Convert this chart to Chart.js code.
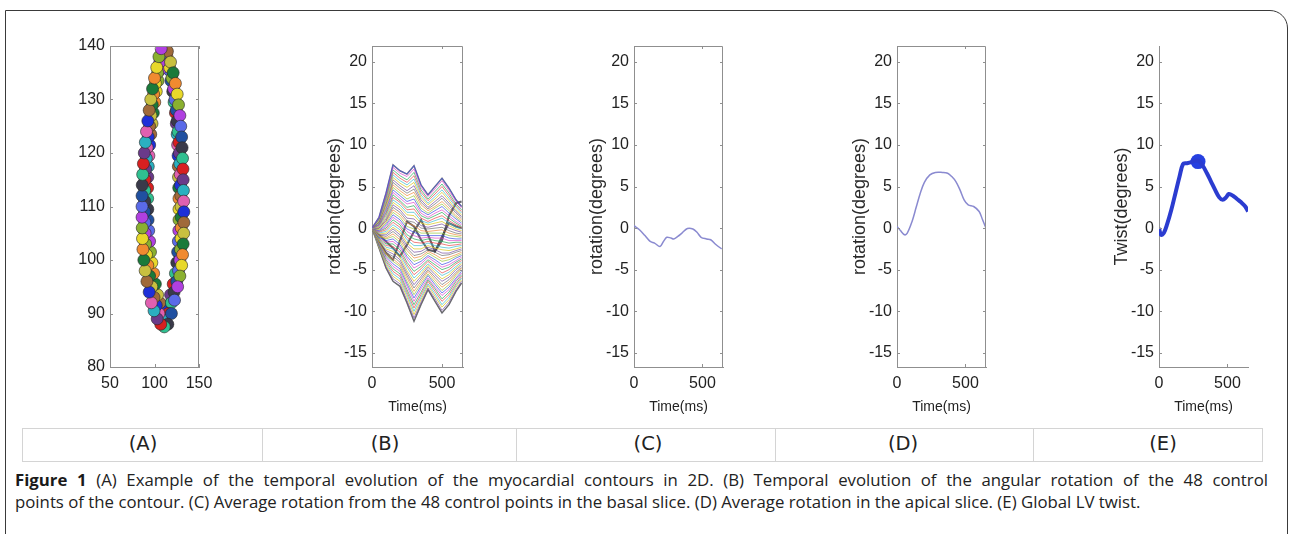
<!DOCTYPE html>
<html><head><meta charset="utf-8">
<script src="https://cdn.jsdelivr.net/npm/chart.js@4.4.1/dist/chart.umd.min.js"></script>
<style>
html,body{margin:0;padding:0;background:#fff;width:1293px;height:534px;overflow:hidden;position:relative;}
#frame{position:absolute;left:5px;top:10px;width:1283px;height:560px;border:1.5px solid #3a3a3a;border-top-right-radius:18px;box-sizing:border-box;}
canvas{position:absolute;}
.cell{position:absolute;top:428px;height:34px;box-sizing:border-box;border:1px solid #d4d4d4;}
.lab{position:absolute;top:428px;width:80px;height:34px;margin-left:-40px;font-family:'DejaVu Sans',sans-serif;font-size:19.5px;color:#222;text-align:center;line-height:32px;}
.cap{position:absolute;left:15px;font-family:'Open Sans',sans-serif;font-size:16.8px;line-height:22px;color:#222;white-space:nowrap;}
#cap1{top:469px;width:1253px;text-align:justify;text-align-last:justify;}
#cap2{top:491px;}
.cap b{font-weight:700;color:#1a1a1a;}
</style></head><body>
<div id="frame"></div>
<div id="cells"></div>
<div class="cap" id="cap1"><b>Figure 1</b> (A) Example of the temporal evolution of the myocardial contours in 2D. (B) Temporal evolution of the angular rotation of the 48 control</div>
<div class="cap" id="cap2">points of the contour. (C) Average rotation from the 48 control points in the basal slice. (D) Average rotation in the apical slice. (E) Global LV twist.</div>
<script>
// ---------------- DATA ----------------
const panelLabels = ['(A)','(B)','(C)','(D)','(E)'];
const xTicksA = [50,100,150];
const yTicksA = [80,90,100,110,120,130,140];
const xTicksTime = [0,500];
const yTicksRot = [-15,-10,-5,0,5,10,15,20];

// (A) contour points (outer frame, mid frame, inner frame)
const contourOutX = [110,114.5,118,121,123.5,125.5,127,128.5,129.5,130.5,131,131.5,132,132.2,132.5,132.8,133,133,132.8,132.2,131.5,130.5,128.5,126,122.5,119,115,111,
                     107,103,99.5,96.5,94,91.5,89.5,88,87,86.5,86.2,86,86,86,86.2,86.7,87.5,88.5,89.7,91,92.5,94,95.8,97.8,100,102.5,105,107.5];
const contourOutY = [140.5,139,137,135,133,131,129,127,125,123,121,119,117,115,113,111,109,107,105,103,101,99,97,95,92.5,90,88,87.5,
                     88,89,90.5,92,94,96,98,100,102,104,106,108,110,112,114,116,118,120,122,124,126,128,130,132,134,136,138,139.5];
const contourMidX = [110,114,117,119.5,121.5,123,124.5,125.5,126.5,127.5,128,128.5,129,129.2,129.5,129.8,130,130,129.8,129.2,128.5,127,125,122,119,115.5,112,
                     108,105,102,99.5,97,94.5,92.5,91,90,89.5,89.2,89,89,89,89.3,90,90.8,91.8,93,94.5,96,97.5,99,101,103.5,106,108];
const contourMidY = [139.5,138,136,134,132,130,128,126,124,122,120,118,116,114,112,110,108,106,104,102,100,98,96,94,92,90,88.5,
                     89,90,91.5,93,95,97,99,101,103,105,107,109,111,113,115,117,119,121,123,125,127,129,131,133,135,137,138.5];
const contourInX = [111,114,116.5,118.5,120.5,122,123.5,124.5,125.5,126,126.5,126.8,127,127.2,127.5,127.5,127.5,127.3,126.8,126,125,123.5,121,118,115,112,
                    109,106,103.5,101,99,97,95.5,94.5,93.5,92.8,92.5,92.3,92.3,92.5,93,93.7,94.6,95.8,97.2,98.7,100.3,102,104,106,108.5];
const contourInY = [138.5,137.5,135.5,133.5,131.5,129.5,127.5,125.5,123.5,121.5,119.5,117.5,115.5,113.5,111.5,109.5,107.5,105.5,103.5,101.5,99.5,97.5,95.5,93.5,91.5,90,
                    90.5,92,93.5,95.5,97.5,99.5,101.5,103.5,105.5,107.5,109.5,111.5,113.5,115.5,117.5,119.5,121.5,123.5,125.5,127.5,129.5,131.5,133.5,135.5,137.5];

// (B) rotation of the 48 control points
const timeB = [0,50,100,150,200,250,300,350,400,450,500,550,600,640];
const rotationB = [
[0,1.3,4.2,7.6,6.9,6.5,7.5,5.2,4.0,5.0,6.0,4.8,3.4,2.6],
[0,1.2,4.0,7.3,6.6,6.2,7.1,4.9,3.8,4.7,5.7,4.5,3.2,2.4],
[0,1.1,3.8,7.0,6.3,5.8,6.7,4.6,3.5,4.4,5.3,4.2,2.9,2.2],
[0,1.1,3.6,6.7,6.0,5.5,6.3,4.3,3.3,4.1,5.0,3.9,2.7,2.0],
[0,1.0,3.4,6.4,5.7,5.2,5.9,4.0,3.0,3.8,4.6,3.6,2.5,1.8],
[0,0.9,3.2,6.1,5.4,4.9,5.5,3.7,2.8,3.5,4.3,3.3,2.2,1.6],
[0,0.8,3.1,5.8,5.1,4.5,5.1,3.4,2.5,3.2,3.9,3.0,2.0,1.4],
[0,0.7,2.9,5.5,4.8,4.2,4.7,3.1,2.3,2.9,3.6,2.7,1.8,1.2],
[0,0.7,2.7,5.2,4.5,3.9,4.3,2.8,2.1,2.6,3.2,2.4,1.5,1.0],
[0,0.6,2.5,4.9,4.2,3.5,3.9,2.4,1.8,2.4,2.9,2.1,1.3,0.8],
[0,0.5,2.3,4.6,3.9,3.2,3.5,2.1,1.6,2.1,2.6,1.8,1.1,0.6],
[0,0.4,2.1,4.3,3.6,2.9,3.1,1.8,1.3,1.8,2.2,1.5,0.8,0.4],
[0,0.4,1.9,4.0,3.3,2.5,2.7,1.5,1.1,1.5,1.9,1.2,0.6,0.2],
[0,0.3,1.7,3.7,3.1,2.2,2.3,1.2,0.8,1.2,1.5,0.9,0.4,0.1],
[0,0.2,1.5,3.4,2.8,1.9,1.9,0.9,0.6,0.9,1.2,0.6,0.1,-0.1],
[0,0.1,1.3,3.1,2.5,1.6,1.5,0.6,0.4,0.6,0.8,0.3,-0.1,-0.3],
[0,0.0,1.1,2.8,2.2,1.2,1.1,0.3,0.1,0.3,0.5,0.0,-0.3,-0.5],
[0,0.0,0.9,2.5,1.9,0.9,0.7,0.0,-0.1,0.0,0.1,-0.3,-0.6,-0.7],
[0,-0.1,0.8,2.2,1.6,0.6,0.3,-0.3,-0.4,-0.3,-0.2,-0.6,-0.8,-0.9],
[0,-0.2,0.6,1.9,1.3,0.2,-0.1,-0.6,-0.6,-0.6,-0.6,-0.9,-1.0,-1.1],
[0,-0.3,0.4,1.6,1.0,-0.1,-0.5,-0.9,-0.9,-0.9,-0.9,-1.2,-1.3,-1.3],
[0,-0.4,0.2,1.3,0.7,-0.4,-0.9,-1.2,-1.1,-1.2,-1.2,-1.5,-1.5,-1.5],
[0,-0.4,0.0,1.0,0.4,-0.8,-1.3,-1.5,-1.3,-1.5,-1.6,-1.8,-1.7,-1.7],
[0,-0.5,-0.2,0.7,0.1,-1.1,-1.7,-1.8,-1.6,-1.8,-1.9,-2.1,-2.0,-1.9],
[0,-0.6,-0.4,0.4,-0.2,-1.4,-2.1,-2.1,-1.8,-2.1,-2.3,-2.4,-2.2,-2.1],
[0,-0.7,-0.6,0.1,-0.5,-1.8,-2.5,-2.5,-2.1,-2.4,-2.6,-2.7,-2.5,-2.3],
[0,-0.8,-0.8,-0.1,-0.8,-2.1,-2.9,-2.8,-2.3,-2.6,-3.0,-3.0,-2.7,-2.5],
[0,-0.8,-1.0,-0.4,-1.1,-2.4,-3.3,-3.1,-2.6,-2.9,-3.3,-3.2,-2.9,-2.7],
[0,-0.9,-1.2,-0.7,-1.4,-2.7,-3.6,-3.4,-2.8,-3.2,-3.7,-3.5,-3.2,-2.9],
[0,-1.0,-1.3,-1.0,-1.7,-3.1,-4.0,-3.7,-3.0,-3.5,-4.0,-3.8,-3.4,-3.1],
[0,-1.1,-1.5,-1.3,-2.0,-3.4,-4.4,-4.0,-3.3,-3.8,-4.4,-4.1,-3.6,-3.3],
[0,-1.1,-1.7,-1.6,-2.3,-3.7,-4.8,-4.3,-3.5,-4.1,-4.7,-4.4,-3.9,-3.5],
[0,-1.2,-1.9,-1.9,-2.6,-4.1,-5.2,-4.6,-3.8,-4.4,-5.0,-4.7,-4.1,-3.7],
[0,-1.3,-2.1,-2.2,-2.9,-4.4,-5.6,-4.9,-4.0,-4.7,-5.4,-5.0,-4.3,-3.9],
[0,-1.4,-2.3,-2.5,-3.2,-4.7,-6.0,-5.2,-4.3,-5.0,-5.7,-5.3,-4.6,-4.1],
[0,-1.5,-2.5,-2.8,-3.5,-5.1,-6.4,-5.5,-4.5,-5.3,-6.1,-5.6,-4.8,-4.3],
[0,-1.5,-2.7,-3.1,-3.8,-5.4,-6.8,-5.8,-4.7,-5.6,-6.4,-5.9,-5.0,-4.5],
[0,-1.6,-2.9,-3.4,-4.1,-5.7,-7.2,-6.1,-5.0,-5.9,-6.8,-6.2,-5.3,-4.7],
[0,-1.7,-3.1,-3.7,-4.4,-6.0,-7.6,-6.4,-5.2,-6.2,-7.1,-6.5,-5.5,-4.8],
[0,-1.8,-3.3,-4.0,-4.6,-6.4,-8.0,-6.7,-5.5,-6.5,-7.5,-6.8,-5.7,-5.0],
[0,-1.9,-3.4,-4.3,-4.9,-6.7,-8.4,-7.0,-5.7,-6.8,-7.8,-7.1,-6.0,-5.2],
[0,-1.9,-3.6,-4.6,-5.2,-7.0,-8.8,-7.3,-6.0,-7.1,-8.1,-7.4,-6.2,-5.4],
[0,-2.0,-3.8,-4.9,-5.5,-7.4,-9.2,-7.7,-6.2,-7.3,-8.5,-7.7,-6.4,-5.6],
[0,-2.1,-4.0,-5.2,-5.8,-7.7,-9.6,-8.0,-6.4,-7.6,-8.8,-8.0,-6.7,-5.8],
[0,-2.2,-4.2,-5.5,-6.1,-8.0,-10.0,-8.3,-6.7,-7.9,-9.2,-8.3,-6.9,-6.0],
[0,-2.3,-4.4,-5.8,-6.4,-8.3,-10.4,-8.6,-6.9,-8.2,-9.5,-8.6,-7.1,-6.2],
[0,-2.3,-4.6,-6.1,-6.7,-8.7,-10.8,-8.9,-7.2,-8.5,-9.9,-8.9,-7.4,-6.4],
[0,-2.4,-4.8,-6.4,-7.0,-9.0,-11.2,-9.2,-7.4,-8.8,-10.2,-9.2,-7.6,-6.6]
];
const darkLineB1 = [0,-1.6,-3.0,-3.8,-1.5,0.8,0.2,-1.4,-2.6,-2.8,-1.0,0.6,0.2,0.0];
const darkLineB2 = [0,-0.8,-1.6,-2.4,-3.4,-2.0,-0.4,1.0,-0.8,-2.8,-1.5,1.5,3.0,3.2];

// (C) basal mean rotation
const timeC = [0,40,80,118,150,190,215,240,270,290,320,350,390,430,460,490,530,560,600,640];
const rotC = [0.3,-0.2,-0.9,-1.6,-1.8,-2.2,-1.6,-1.1,-1.2,-1.3,-1.0,-0.6,-0.05,-0.1,-0.5,-1.1,-1.3,-1.4,-2.0,-2.5];

// (D) apical mean rotation
const timeD = [0,25,55,75,110,140,170,200,240,280,330,370,400,430,460,490,520,560,600,625,650];
const rotD = [0.2,-0.3,-0.8,-0.6,0.8,2.5,4.2,5.5,6.4,6.7,6.7,6.6,6.2,5.6,4.6,3.4,2.8,2.6,2.0,1.0,0.0];

// (E) global twist
const timeE = [0,15,35,60,90,120,150,175,200,230,260,290,320,350,380,410,440,465,490,510,540,570,600,630,650];
const twistE = [0.0,-0.8,-0.6,0.5,2.2,4.2,6.2,7.7,7.8,7.9,8.1,8.1,7.5,6.6,5.6,4.6,3.7,3.4,3.7,4.1,3.9,3.5,3.1,2.6,2.0];
const peakTwistTime = [285];
const peakTwistValue = [8.0];

// --------------- LAYOUT / STYLE ---------------
const palette = ['#1e2fd8','#b040e0','#2ab0c0','#e8d82a','#d82020','#1a7a3a','#3a3a4a','#a06a3a','#5a6ae8','#e060b0','#8ab030','#6a3a8a','#f08a30','#30c090','#c8c040','#2050a0'];
const lineColors = ['rgba(60,80,230,0.7)','rgba(220,60,200,0.65)','rgba(40,170,90,0.7)','rgba(230,60,60,0.65)','rgba(60,190,210,0.7)','rgba(220,200,40,0.75)','rgba(120,80,160,0.7)','rgba(90,90,90,0.6)','rgba(240,140,60,0.7)','rgba(150,200,60,0.7)'];

const AX = '#8f8f8f';
const TICKFONT = {family:"'Liberation Sans', Arial, sans-serif", size:16};
const XTITLEFONT = {family:"'Liberation Sans Narrow','Liberation Sans', Arial, sans-serif", size:14};
const YTITLEFONT = {family:"'Liberation Sans', Arial, sans-serif", size:18};
const PLOT_TOP = 46, PLOT_BOTTOM = 367, CANVAS_TOP = 30, LEFT_W = 75, BOTTOM_H = 60, RIGHT_PAD = 25;

const boxPlugin = {
  id: 'boxTicks',
  afterDraw(chart, args, opts) {
    const {ctx, chartArea: a, scales} = chart;
    ctx.save();
    ctx.strokeStyle = AX; ctx.lineWidth = 1;
    if (opts.box) {
      ctx.beginPath();
      ctx.moveTo(a.left, a.top + 0.5); ctx.lineTo(a.right - 0.5, a.top + 0.5); ctx.lineTo(a.right - 0.5, a.bottom);
      ctx.stroke();
    }
    ctx.beginPath();
    scales.x.ticks.forEach(t => {
      const px = Math.round(scales.x.getPixelForValue(t.value)) + 0.5;
      ctx.moveTo(px, a.bottom); ctx.lineTo(px, a.bottom - 3);
      if (opts.box) { ctx.moveTo(px, a.top); ctx.lineTo(px, a.top + 3); }
    });
    scales.y.ticks.forEach(t => {
      const py = Math.round(scales.y.getPixelForValue(t.value)) + 0.5;
      ctx.moveTo(a.left, py); ctx.lineTo(a.left + 3, py);
      if (opts.box) { ctx.moveTo(a.right, py); ctx.lineTo(a.right - 3, py); }
    });
    ctx.stroke();
    ctx.restore();
  }
};

function makePanel(plotLeft, plotRight, xr, yr, xTicks, yTicks, datasets, extra) {
  const cv = document.createElement('canvas');
  const w = LEFT_W + (plotRight - plotLeft) + RIGHT_PAD;
  const h = (PLOT_BOTTOM - CANVAS_TOP) + BOTTOM_H;
  cv.width = w; cv.height = h;
  cv.style.left = (plotLeft - LEFT_W) + 'px'; cv.style.top = CANVAS_TOP + 'px';
  cv.style.width = w + 'px'; cv.style.height = h + 'px';
  document.body.appendChild(cv);
  new Chart(cv, {
    type: 'scatter',
    data: {datasets},
    options: {
      responsive: false, animation: false, devicePixelRatio: 1,
      layout: {padding: {top: PLOT_TOP - CANVAS_TOP, right: RIGHT_PAD, left: 0, bottom: 0}},
      plugins: {legend: {display: false}, tooltip: {enabled: false}, boxTicks: {box: extra.box}},
      scales: {
        x: {
          type: 'linear', min: xr[0], max: xr[1],
          afterBuildTicks: s => { s.ticks = xTicks.map(v => ({value: v})); },
          afterFit: s => { s.height = BOTTOM_H; },
          grid: {display: true, drawOnChartArea: false, drawTicks: false},
          border: {display: true, color: AX, width: 1},
          ticks: {font: TICKFONT, color: '#222', padding: 7, maxRotation: 0, autoSkip: false},
          title: {display: !!extra.xTitle, text: extra.xTitle || '', font: XTITLEFONT, color: '#222', padding: {top: 0, bottom: 11}}
        },
        y: {
          type: 'linear', min: yr[0], max: yr[1],
          afterBuildTicks: s => { s.ticks = yTicks.map(v => ({value: v})); },
          afterFit: s => { s.width = LEFT_W; },
          grid: {display: true, drawOnChartArea: false, drawTicks: false},
          border: {display: true, color: AX, width: 1},
          ticks: {font: TICKFONT, color: '#222', padding: 5, autoSkip: false},
          title: {display: !!extra.yTitle, text: extra.yTitle || '', font: YTITLEFONT, color: '#2a2a2a', padding: {top: 27, bottom: 0}}
        }
      }
    },
    plugins: [boxPlugin]
  });
}

function pts(xs, ys) { return xs.map((x, i) => ({x, y: ys[i]})); }

// Panel A
const contourSets = [[contourOutX, contourOutY], [contourMidX, contourMidY], [contourInX, contourInY]];
const dsA = contourSets.map(([xs, ys], k) => ({
  data: pts(xs, ys), showLine: false,
  pointRadius: 6, pointBorderWidth: 1,
  pointBackgroundColor: xs.map((_, i) => palette[(i * 7 + k * 5) % palette.length]),
  pointBorderColor: 'rgba(40,40,40,0.6)'
}));
makePanel(110, 199, [50, 150], [80, 140], xTicksA, yTicksA, dsA, {box: true});

// Panel B
const ROT_RANGE = [-16.7, 21.9];
const dsB = rotationB.map((vals, k) => ({
  data: pts(timeB, vals), showLine: true, borderColor: lineColors[k % lineColors.length],
  borderWidth: 1, pointRadius: 0, tension: 0
}));
dsB.push({data: pts(timeB, darkLineB1), showLine: true, borderColor: 'rgba(60,60,70,0.8)', borderWidth: 2, pointRadius: 0});
dsB.push({data: pts(timeB, darkLineB2), showLine: true, borderColor: 'rgba(60,60,70,0.8)', borderWidth: 2, pointRadius: 0});
dsB.push({data: pts(timeB, rotationB[0]), showLine: true, borderColor: 'rgba(110,110,120,0.9)', borderWidth: 1.5, pointRadius: 0});
dsB.push({data: pts(timeB, rotationB[47]), showLine: true, borderColor: 'rgba(110,110,120,0.9)', borderWidth: 1.5, pointRadius: 0});
makePanel(372, 463, [0, 650], ROT_RANGE, xTicksTime, yTicksRot, dsB, {box: true, xTitle: 'Time(ms)', yTitle: 'rotation(degrees)'});

// Panel C
makePanel(634, 723, [0, 650], ROT_RANGE, xTicksTime, yTicksRot,
  [{data: pts(timeC, rotC), showLine: true, borderColor: '#8a8ad0', borderWidth: 1.5, pointRadius: 0, tension: 0.35}],
  {box: true, xTitle: 'Time(ms)', yTitle: 'rotation(degrees)'});

// Panel D
makePanel(897, 986, [0, 650], ROT_RANGE, xTicksTime, yTicksRot,
  [{data: pts(timeD, rotD), showLine: true, borderColor: '#8a8ad0', borderWidth: 1.5, pointRadius: 0, tension: 0.35}],
  {box: true, xTitle: 'Time(ms)', yTitle: 'rotation(degrees)'});

// Panel E
makePanel(1159, 1248, [0, 650], ROT_RANGE, xTicksTime, yTicksRot, [
  {data: pts(timeE, twistE), showLine: true, borderColor: '#2b3cd0', borderWidth: 4, pointRadius: 0, tension: 0.35},
  {data: pts(peakTwistTime, peakTwistValue), showLine: false, pointRadius: 7.5, pointBackgroundColor: '#2640e0', pointBorderColor: '#2640e0', pointBorderWidth: 0}
], {box: false, xTitle: 'Time(ms)', yTitle: 'Twist(degrees)'});

// Table row with panel labels
const cellEdges = [22, 262, 516, 775, 1033, 1262];
const labelCenters = [143, 385, 648, 903, 1163];
const cells = document.getElementById('cells');
panelLabels.forEach((lab, i) => {
  const d = document.createElement('div');
  d.className = 'cell';
  d.style.left = cellEdges[i] + 'px';
  d.style.width = (cellEdges[i + 1] - cellEdges[i] + 1) + 'px';
  cells.appendChild(d);
  const t = document.createElement('div');
  t.className = 'lab';
  t.style.left = labelCenters[i] + 'px';
  t.textContent = lab;
  cells.appendChild(t);
});
</script>
</body></html>
